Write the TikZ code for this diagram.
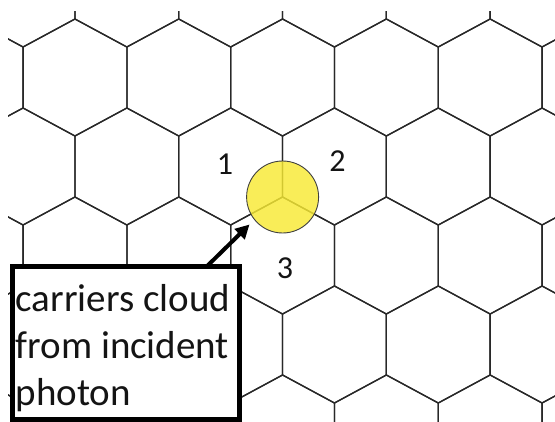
\documentclass[tikz,border=0pt]{standalone}
\usepackage{fontspec}
\setmainfont{Carlito}
\usetikzlibrary{arrows.meta,calc}

\definecolor{gridgray}{RGB}{40,40,40}
\definecolor{cloudyellow}{RGB}{248,234,52}
\definecolor{inkblack}{RGB}{20,20,20}

\tikzset{
  gridline/.style={draw=gridgray, line width=1.3pt, line join=miter},
  cloud/.style={circle, minimum size=72pt, inner sep=0pt, fill=cloudyellow,
                fill opacity=0.82, draw=black!75, line width=0.9pt},
  hexlabel/.style={inner sep=0pt, text=inkblack, font=\fontsize{32}{38}\selectfont},
  callout/.style={draw=black, line width=5pt, fill=white, rectangle,
                  inner sep=0pt, outer sep=0pt},
  callouttext/.style={inner sep=0pt, align=left, text=inkblack,
                      font=\fontsize{39}{47}\selectfont},
  pointer/.style={draw=black, line width=4pt,
                  -{Triangle[length=14pt,width=14pt]}}
}

\begin{document}
\begin{tikzpicture}[x=1pt,y=-1pt]
  % canvas
  \fill[white] (0,0) rectangle (555,422);
  \useasboundingbox (0,0) rectangle (555,422);

  % honeycomb lattice (pointy-top hexagons)
  \begin{scope}
    \clip (8,12) rectangle (555,422);
    \foreach \r in {-1,...,4}{
      \foreach \j in {-1,...,5}{
        \pgfmathsetmacro\cx{ifthenelse(mod(\r+2,2)==0,75,23)+103.8*\j}
        \pgfmathsetmacro\ty{19+89*\r}
        \draw[gridline] (\cx,\ty) -- ++(51.9,28) -- ++(0,61) -- ++(-51.9,28)
          -- ++(-51.9,-28) -- ++(0,-61) -- cycle;
      }
    }
  \end{scope}

  % carrier cloud centred on the shared vertex of three cells
  \node[cloud] (c) at (282.6,197) {};

  % cell numbers
  \node[hexlabel] (n1) at (225,164) {1};
  \node[hexlabel] (n2) at (337.5,161.5) {2};
  \node[hexlabel] (n3) at (285,268) {3};

  % annotation box
  \node[callout, minimum width=227pt, minimum height=153pt, anchor=north west]
    (box) at (12,267) {};
  % base anchor of a multi-line node sits on its last line
  \node[callouttext, anchor=base west] (boxtext) at (15.5,406)
    {carriers cloud\\from incident\\photon};

  % pointer from the box to the cloud
  \coordinate (tail) at ($(box.north west)!0.86!(box.north east)+(0,-1)$);
  \coordinate (tip) at (249.5,224.5);
  \draw[pointer] (tail) -- (tip);
\end{tikzpicture}
\end{document}
